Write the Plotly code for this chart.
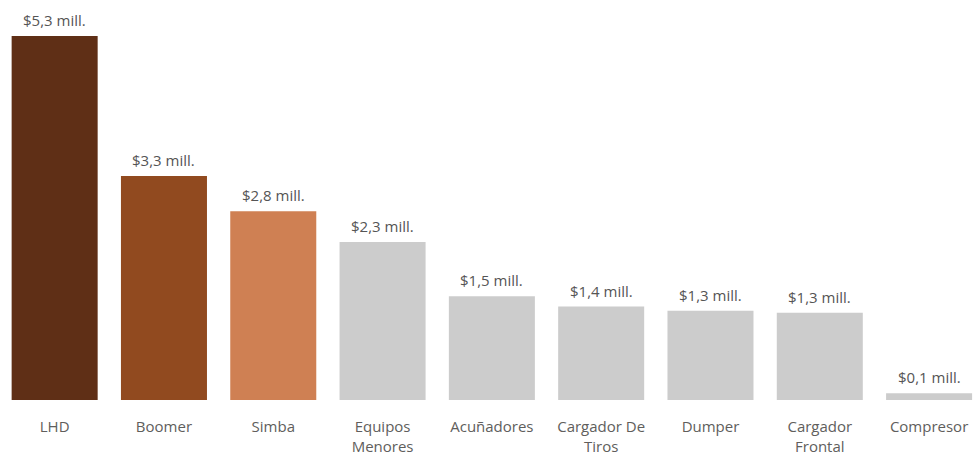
import plotly.graph_objects as go

# Equipment categories and their cost (millions of dollars)
categorias = ["LHD", "Boomer", "Simba", "Equipos<br>Menores", "Acuñadores",
              "Cargador De<br>Tiros", "Dumper", "Cargador<br>Frontal", "Compresor"]
costos_mill = [5.30, 3.26, 2.75, 2.30, 1.51, 1.36, 1.30, 1.27, 0.10]
colores = ["#5F2F16", "#914A1F", "#CF8053", "#CCCCCC", "#CCCCCC",
           "#CCCCCC", "#CCCCCC", "#CCCCCC", "#CCCCCC"]

FUENTE = "Open Sans, Noto Sans, sans-serif"


def etiqueta(v):
    return "$" + f"{v:.1f}".replace(".", ",") + " mill."


fig = go.Figure(go.Bar(
    x=categorias,
    y=costos_mill,
    marker=dict(color=colores, line=dict(width=0)),
    hoverinfo="skip",
))

for cat, v in zip(categorias, costos_mill):
    fig.add_annotation(
        x=cat, y=v, text=etiqueta(v), showarrow=False,
        yanchor="bottom", yshift=4,
        font=dict(family=FUENTE, size=15, color="#555555"),
    )

fig.update_layout(
    width=975, height=460,
    margin=dict(l=0, r=0, t=0, b=60),
    paper_bgcolor="white", plot_bgcolor="white",
    bargap=0.213,
    showlegend=False,
    font=dict(family=FUENTE, size=15, color="#605E5C"),
    xaxis=dict(
        range=[-0.5, 8.42], showgrid=False, zeroline=False, showline=False,
        ticks="", ticklabelstandoff=16, tickfont=dict(family=FUENTE, size=15, color="#605E5C"),
    ),
    yaxis=dict(
        range=[0, 5.824], visible=False, showgrid=False, zeroline=False,
    ),
)

fig.write_html("out.html")
